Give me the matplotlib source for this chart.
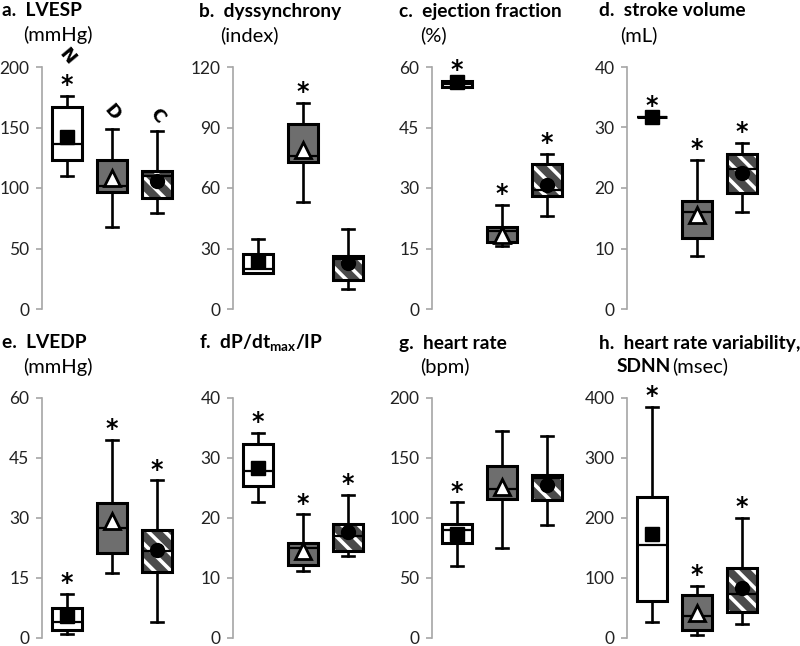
import matplotlib
matplotlib.use("Agg")
import matplotlib.pyplot as plt
from matplotlib.patches import PathPatch

plt.rcParams['font.family'] = ['Lato', 'DejaVu Sans']
plt.rcParams['hatch.linewidth'] = 2.6

# panel titles / units / y-axis maxima
titles = ['a.  LVESP', 'b.  dyssynchrony', 'c.  ejection fraction', 'd.  stroke volume',
          'e.  LVEDP', r'f.  dP/dt$_{\mathregular{max}}$/IP', 'g.  heart rate',
          'h.  heart rate variability,']
units = ['(mmHg)', '(index)', '(%)', '(mL)', '(mmHg)', '', '(bpm)', '(msec)']
ymax = [200, 120, 60, 40, 60, 40, 200, 400]

# groups: N (white), D (gray), C (hatched)
whislo = [[110, 68, 79], [18, 53, 10], [55, 15.5, 23], [31.8, 8.7, 16],
          [1, 16.3, 4], [22.7, 11.2, 13.7], [60, 75, 94], [27, 5.5, 24]]
q1 = [[123, 97, 92], [18, 73, 14.5], [55, 16.7, 28], [31.8, 11.8, 19.2],
      [2.1, 21.3, 16.5], [25.4, 12.2, 14.5], [79, 116, 115], [61, 14, 43]]
med = [[136, 102, 110], [20, 76, 25], [55.8, 19.4, 29.6], [31.8, 16, 23.2],
       [3.9, 27.6, 21.8], [27.8, 15, 17], [90, 124, 133], [155, 36, 74]]
q3 = [[167, 123, 114], [27.5, 91.5, 26.5], [56.5, 20.4, 36], [31.8, 17.8, 25.6],
      [7.6, 33.8, 26.9], [32.3, 15.8, 19], [95, 143.5, 136], [235, 72, 117]]
whishi = [[176, 149, 147], [34.5, 102, 39.5], [56.5, 25.7, 38.5], [31.8, 24.6, 27.5],
          [11, 49.5, 39.4], [34.2, 20.6, 23.8], [113, 172.5, 168], [385, 87, 200]]
means = [[142, 108, 106], [24, 79, 23], [56.3, 18.4, 30.8], [31.8, 15.6, 22.4],
         [5.5, 29.3, 22], [28.4, 14.5, 17.6], [87, 126, 127.5], [174, 42, 84]]
stars = [[1, 0, 0], [0, 1, 0], [1, 1, 1], [1, 1, 1],
         [1, 1, 1], [1, 1, 1], [1, 0, 0], [1, 1, 1]]
group_letters = ['N', 'D', 'C']

W, H = 800, 646
fig = plt.figure(figsize=(8, 6.46), dpi=100)

col_x = [42, 233, 432, 627]
rows = [(67, 309), (398, 638)]
ax_w = 140

for k in range(8):
    r, c = divmod(k, 4)
    top, bot = rows[r]
    ax = fig.add_axes([col_x[c] / W, 1 - bot / H, ax_w / W, (bot - top) / H])

    stats = []
    for i in range(3):
        stats.append(dict(whislo=whislo[k][i], q1=q1[k][i], med=med[k][i],
                          q3=q3[k][i], whishi=whishi[k][i], fliers=[]))
    bp = ax.bxp(stats, positions=[1, 2, 3], widths=0.67, patch_artist=True,
                showfliers=False, capwidths=0.27,
                boxprops=dict(linewidth=2.2, edgecolor='black'),
                whiskerprops=dict(linewidth=1.9, color='black'),
                capprops=dict(linewidth=1.9, color='black'),
                medianprops=dict(linewidth=1.6, color='black'))
    boxes = bp['boxes']
    boxes[0].set_facecolor('white')
    boxes[1].set_facecolor('#6e6e6e')
    hb = boxes[2]
    hb.set_facecolor('#4a4a4a')
    hb.set_edgecolor('white')
    hb.set_hatch('\\\\')
    hb.set_linewidth(0)
    ax.add_patch(PathPatch(hb.get_path(), facecolor='none', edgecolor='black',
                           linewidth=2.2, zorder=hb.get_zorder() + 0.1))

    # means
    ax.plot(1, means[k][0], marker='s', ms=10, color='black', zorder=5)
    ax.plot(2, means[k][1], marker='^', ms=11, mfc='white', mec='black', mew=2, zorder=5)
    ax.plot(3, means[k][2], marker='o', ms=10, color='black', zorder=5)

    off = 0.045 * ymax[k]
    for i in range(3):
        if stars[k][i]:
            ax.text(i + 1, whishi[k][i] + off, '*', ha='center', va='center',
                    fontsize=17, fontweight='bold', family='DejaVu Sans', clip_on=False)
    if k == 0:
        for i in range(3):
            yy = whishi[k][i] + (0.165 if stars[k][i] else 0.065) * ymax[k]
            ax.text(i + 1, yy, group_letters[i], ha='center', va='center', rotation=-50,
                    fontsize=13, fontweight='bold', family='DejaVu Sans', clip_on=False)

    ax.set_xlim(0.45, 3.55)
    ax.set_ylim(0, ymax[k])
    ax.set_yticks([ymax[k] / 4 * j for j in range(5)])
    ax.set_yticklabels([f'{ymax[k] // 4 * j:g}' for j in range(5)])
    ax.set_xticks([])
    for s in ['top', 'right', 'bottom']:
        ax.spines[s].set_visible(False)
    ax.spines['left'].set_color('#a6a6a6')
    ax.spines['left'].set_linewidth(1.2)
    ax.tick_params(axis='y', direction='out', length=4, width=1.2, color='#a6a6a6',
                   labelsize=12.5, labelcolor='#222222', pad=5)

    # titles
    tx = [2, 199, 399, 599][c]
    ty = [11, 343][r]
    fig.text(tx / W, 1 - ty / H, titles[k], fontsize=13.8, fontweight='bold', va='center')
    if k == 7:
        fig.text((tx + 18) / W, 1 - (ty + 23) / H, 'SDNN', fontsize=13.8,
                 fontweight='bold', va='center')
        fig.text((tx + 73) / W, 1 - (ty + 23) / H, units[k], fontsize=14.5, va='center')
    elif units[k]:
        fig.text((tx + 21) / W, 1 - (ty + 24) / H, units[k], fontsize=14.5, va='center')

fig.savefig('out.png', dpi=100)
